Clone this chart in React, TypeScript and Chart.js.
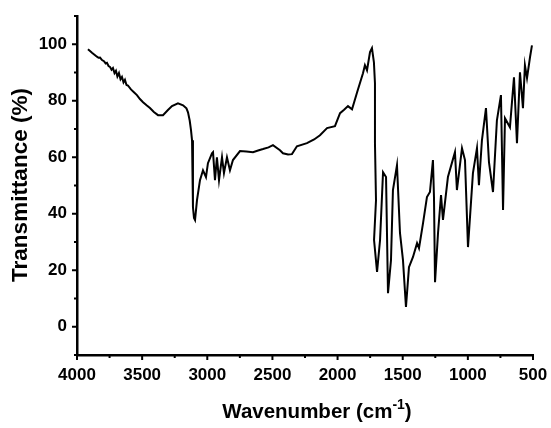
import React, { useEffect, useRef } from 'react';
import { Chart, registerables } from 'chart.js';
Chart.register(...registerables);

const WAVENUMBER = [
  3916, 3900, 3885, 3866, 3847, 3835, 3823, 3808, 3793, 3780, 3770, 3758, 3747, 3735, 3724, 3712, 3701, 3690,
  3678, 3666, 3655, 3643, 3632, 3620, 3609, 3586, 3563, 3540, 3517, 3493, 3466, 3440, 3410, 3378, 3340, 3302,
  3271, 3225, 3186, 3160, 3148, 3135, 3125, 3117, 3110, 3102, 3094, 3079, 3056, 3033, 3010, 2995, 2964, 2956,
  2941, 2926, 2910, 2887, 2872, 2849, 2826, 2803, 2749, 2700, 2649, 2610, 2572, 2530, 2496, 2442, 2419, 2380,
  2350, 2312, 2235, 2180, 2135, 2081, 2020, 1981, 1950, 1920, 1889, 1850, 1805, 1790, 1774, 1751, 1736, 1721,
  1713, 1713, 1705, 1720, 1697, 1674, 1651, 1628, 1613, 1590, 1575, 1544, 1521, 1498, 1475, 1452, 1421, 1390,
  1375, 1344, 1314, 1291, 1268, 1260, 1252, 1229, 1206, 1191, 1153, 1099, 1084, 1045, 1022, 999, 961, 930,
  915, 892, 861, 838, 807, 777, 746, 730, 715, 677, 646, 623, 600, 577, 562, 546, 523, 508,
];
const TRANSMITTANCE = [
  98.2, 97.6, 97.0, 96.3, 95.6, 95.2, 95.3, 94.4, 94.0, 93.2, 93.4, 92.3, 92.0, 91.0, 91.6, 89.8, 90.6, 88.6,
  89.8, 87.6, 88.4, 86.5, 87.4, 85.6, 85.4, 84.0, 83.0, 82.0, 80.6, 79.5, 78.4, 77.4, 76.0, 74.9, 74.9, 76.7,
  78.1, 79.1, 78.4, 77.3, 75.9, 73.0, 69.6, 66.0, 42.3, 38.5, 37.8, 44.8, 51.9, 55.4, 53.0, 57.9, 61.4, 61.8,
  51.9, 60.0, 51.9, 60.0, 54.4, 60.0, 55.4, 59.0, 62.2, 62.0, 61.8, 62.4, 62.9, 63.5, 64.3, 62.5, 61.4, 61.0,
  61.1, 63.9, 65.0, 66.3, 67.8, 70.3, 71.0, 75.6, 76.8, 78.1, 77.0, 83.0, 89.7, 92.6, 90.8, 97.2, 98.6, 93.6,
  86.2, 65.0, 44.8, 30.7, 19.4, 30.7, 54.7, 53.0, 11.9, 23.6, 48.4, 57.2, 33.2, 23.6, 7.0, 21.1, 24.7, 29.6,
  27.8, 36.7, 45.9, 47.7, 59.0, 45.9, 15.8, 33.2, 46.6, 37.8, 53.0, 61.8, 48.4, 63.2, 59.0, 28.2, 54.4, 63.2,
  50.1, 66.0, 77.4, 58.3, 47.7, 73.1, 82.0, 41.3, 73.8, 70.6, 88.3, 65.0, 90.1, 77.4, 92.6, 88.0, 95.4, 99.6,
];
const X_TICKS = [4000, 3500, 3000, 2500, 2000, 1500, 1000, 500];
const X_MINOR = [3750, 3250, 2750, 2250, 1750, 1250, 750];
const Y_TICKS = [0, 20, 40, 60, 80, 100];
const Y_MINOR = [-10, 10, 30, 50, 70, 90, 110];

const FAMILY = '"Liberation Sans", Arial, Helvetica, sans-serif';

const axisPlugin = {
  id: 'axisDecor',
  afterDraw(chart: any) {
    const ctx = chart.ctx;
    const xs = chart.scales.x;
    const ys = chart.scales.y;
    const { left, bottom } = chart.chartArea;
    ctx.save();
    ctx.strokeStyle = '#000';
    ctx.lineWidth = 2;
    const seg = (x1: number, y1: number, x2: number, y2: number) => {
      ctx.beginPath();
      ctx.moveTo(x1, y1);
      ctx.lineTo(x2, y2);
      ctx.stroke();
    };
    X_TICKS.forEach((v) => { const p = xs.getPixelForValue(v); seg(p, bottom, p, bottom + 5); });
    X_MINOR.forEach((v) => { const p = xs.getPixelForValue(v); seg(p, bottom, p, bottom + 3); });
    Y_TICKS.forEach((v) => { const p = ys.getPixelForValue(v); seg(left - 5, p, left, p); });
    Y_MINOR.forEach((v) => { const p = ys.getPixelForValue(v); seg(left - 3, p, left, p); });

    ctx.fillStyle = '#000';
    const mainFont = `bold 20.5px ${FAMILY}`;
    const supFont = `bold 14px ${FAMILY}`;
    const t1 = 'Wavenumber (cm';
    const ts = '-1';
    const t2 = ')';
    ctx.font = mainFont;
    const w1 = ctx.measureText(t1).width;
    const w2 = ctx.measureText(t2).width;
    ctx.font = supFont;
    const ws = ctx.measureText(ts).width;
    const total = w1 + ws + w2;
    const x0 = 317 - total / 2;
    const base = 418;
    ctx.textAlign = 'left';
    ctx.textBaseline = 'alphabetic';
    ctx.font = mainFont;
    ctx.fillText(t1, x0, base);
    ctx.font = supFont;
    ctx.fillText(ts, x0 + w1, base - 9);
    ctx.font = mainFont;
    ctx.fillText(t2, x0 + w1 + ws, base);

    ctx.translate(21, 185);
    ctx.rotate(-Math.PI / 2);
    ctx.font = `bold 22.5px ${FAMILY}`;
    ctx.textAlign = 'center';
    ctx.textBaseline = 'middle';
    ctx.fillText('Transmittance (%)', 0, 0);
    ctx.restore();
  },
};

export default function App() {
  const ref = useRef<HTMLCanvasElement | null>(null);
  useEffect(() => {
    if (!ref.current) return;
    const points = WAVENUMBER.map((x, i) => ({ x, y: TRANSMITTANCE[i] }));
    const chart = new Chart(ref.current, {
      type: 'line',
      data: {
        datasets: [
          {
            data: points,
            borderColor: '#000',
            borderWidth: 2,
            pointRadius: 0,
            tension: 0,
            fill: false,
          },
        ],
      },
      options: {
        animation: false,
        responsive: false,
        layout: { padding: { left: 0, top: 16, right: 18, bottom: 0 } },
        plugins: { legend: { display: false }, tooltip: { enabled: false } },
        scales: {
          x: {
            type: 'linear',
            reverse: true,
            min: 500,
            max: 4000,
            afterBuildTicks: (s: any) => { s.ticks = X_TICKS.map((v) => ({ value: v })); },
            afterFit: (s: any) => { s.height = 73; s.paddingLeft = 0; s.paddingRight = 0; },
            grid: { display: false, drawTicks: false },
            border: { display: true, color: '#000', width: 2.5 },
            ticks: {
              padding: 10,
              color: '#000',
              maxRotation: 0,
              autoSkip: false,
              font: { family: FAMILY, size: 17, weight: 'bold' },
              callback: (v: any) => String(v),
            },
          },
          y: {
            type: 'linear',
            min: -10,
            max: 110,
            afterBuildTicks: (s: any) => { s.ticks = Y_TICKS.map((v) => ({ value: v })); },
            afterFit: (s: any) => { s.width = 77; s.paddingTop = 0; s.paddingBottom = 0; },
            grid: { display: false, drawTicks: false },
            border: { display: true, color: '#000', width: 2.5 },
            ticks: {
              padding: 10,
              color: '#000',
              autoSkip: false,
              font: { family: FAMILY, size: 17, weight: 'bold' },
              callback: (v: any) => String(v),
            },
          },
        },
      },
      plugins: [axisPlugin],
    } as any);
    return () => chart.destroy();
  }, []);
  return (
    <div style={{ position: 'fixed', left: 0, top: 0, width: 551, height: 428, background: '#fff' }}>
      <canvas ref={ref} width={551} height={428} style={{ display: 'block' }} />
    </div>
  );
}
